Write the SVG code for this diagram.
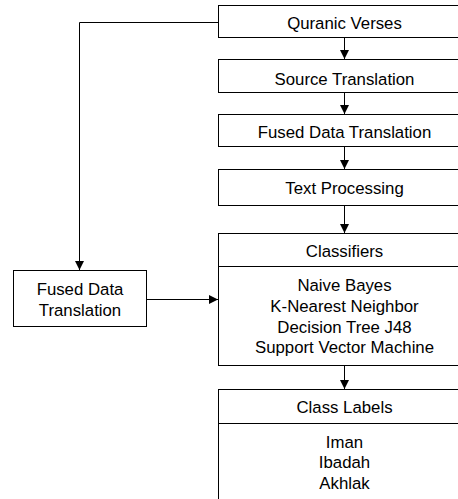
<svg xmlns="http://www.w3.org/2000/svg" width="458" height="499" viewBox="0 0 458 499">
<style>
.box{fill:#fff;stroke:#000;stroke-width:1}
.ln{fill:none;stroke:#000;stroke-width:1}
text{font-family:"Liberation Sans",Arial,sans-serif;font-size:16.8px;fill:#000;text-anchor:middle}
</style>
<defs>
<marker id="ah" markerUnits="userSpaceOnUse" markerWidth="10" markerHeight="10" refX="9" refY="5" orient="auto">
<path d="M0,0.5 L9,5 L0,9.5 z" fill="#000"/>
</marker>
</defs>
<rect width="458" height="499" fill="#fff"/>
<g id="connectors">
<path class="ln" d="M344.5,37.5 V59" marker-end="url(#ah)"/>
<path class="ln" d="M344.5,92.5 V114" marker-end="url(#ah)"/>
<path class="ln" d="M344.5,146.5 V169" marker-end="url(#ah)"/>
<path class="ln" d="M344.5,205.5 V233" marker-end="url(#ah)"/>
<path class="ln" d="M344.5,365.5 V389" marker-end="url(#ah)"/>
<path class="ln" d="M218.5,22.5 H79.5 V270" marker-end="url(#ah)"/>
<path class="ln" d="M146.5,299.5 H218" marker-end="url(#ah)"/>
</g>
<g id="quranic-verses">
<rect class="box" x="218.5" y="5.5" width="253" height="32"/>
<text x="344.5" y="29.3">Quranic Verses</text>
</g>
<g id="source-translation">
<rect class="box" x="218.5" y="59.5" width="253" height="33"/>
<text x="344.5" y="85">Source Translation</text>
</g>
<g id="fused-data-translation-main">
<rect class="box" x="218.5" y="114.5" width="253" height="32"/>
<text x="344.5" y="138.3">Fused Data Translation</text>
</g>
<g id="text-processing">
<rect class="box" x="218.5" y="169.5" width="253" height="36"/>
<text x="344.5" y="194.3">Text Processing</text>
</g>
<g id="classifiers">
<rect class="box" x="218.5" y="233.5" width="253" height="132"/>
<line class="ln" x1="218.5" y1="266.5" x2="471.5" y2="266.5"/>
<text x="344.5" y="256.7">Classifiers</text>
<text x="344.5" y="291">Naive Bayes</text>
<text x="344.5" y="311.7">K-Nearest Neighbor</text>
<text x="344.5" y="333.3">Decision Tree J48</text>
<text x="344.5" y="353.3">Support Vector Machine</text>
</g>
<g id="class-labels">
<rect class="box" x="218.5" y="389.5" width="253" height="130"/>
<line class="ln" x1="218.5" y1="423.5" x2="471.5" y2="423.5"/>
<text x="344.5" y="413.3">Class Labels</text>
<text x="344.5" y="448.3">Iman</text>
<text x="344.5" y="468.3">Ibadah</text>
<text x="344.5" y="489.3">Akhlak</text>
</g>
<g id="fused-data-translation-side">
<rect class="box" x="13.5" y="270.5" width="133" height="56"/>
<text x="80" y="295">Fused Data</text>
<text x="80" y="316">Translation</text>
</g>
</svg>
